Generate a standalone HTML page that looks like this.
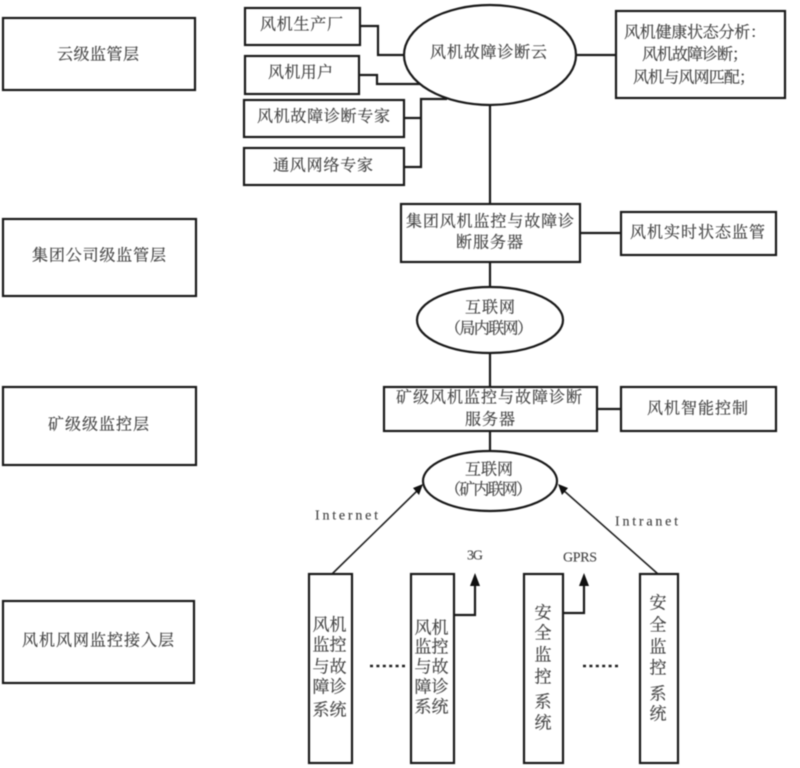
<!DOCTYPE html>
<html lang="zh">
<head>
<meta charset="utf-8">
<title>风机故障诊断云</title>
<style>
html,body{margin:0;padding:0;background:#fff;width:800px;height:768px;overflow:hidden}
svg{display:block;filter:blur(0.5px)}
.s{fill:#fff;stroke:#1a1a1a;stroke-width:2.2}
.l{fill:none;stroke:#1a1a1a;stroke-width:2.2}
.d{fill:none;stroke:#222;stroke-width:1.6}
text{font-family:"Liberation Serif","Noto Serif CJK SC",serif;font-size:16px;fill:#444;stroke:#555;stroke-width:.25px;dominant-baseline:central;text-anchor:start}
.c text{text-anchor:middle;font-size:17px}
text.e{font-size:14px;stroke-width:.15px}
</style>
</head>
<body>
<svg width="800" height="768" viewBox="0 0 800 768" xmlns="http://www.w3.org/2000/svg">
<!-- connectors -->
<path class="l" d="M360 26H378V55H406"/>
<path class="l" d="M360 75H377V84H420"/>
<path class="l" d="M404 118H421M404 167H421V99H447"/>
<path class="l" d="M490 104V205M490 262V288M490 352V388M490 431V453"/>
<path class="l" d="M575 55H617M580 233H621M597 409H621"/>
<path class="d" d="M332 574L419 489"/>
<path class="d" d="M658 574L562 489"/>
<path class="l" d="M454 615H475V584"/>
<path class="l" d="M563 613H584V584"/>
<path d="M423 484L413 488L419 495Z" fill="#111"/>
<path d="M558 484L568 488L562 495Z" fill="#111"/>
<path d="M475 573L470 586H480Z" fill="#111"/>
<path d="M584 573L579 586H589Z" fill="#111"/>
<path d="M370 666H407M583 666H620" fill="none" stroke="#222" stroke-width="2.5" stroke-dasharray="3 3.4"/>

<!-- layer boxes -->
<rect class="s" x="3" y="18" width="192" height="72"/>
<rect class="s" x="3" y="219" width="193" height="77"/>
<rect class="s" x="3" y="387" width="193" height="78"/>
<rect class="s" x="3" y="601" width="191" height="82"/>
<text x="57" y="55" textLength="82" lengthAdjust="spacing">云级监管层</text>
<text x="32" y="256" textLength="134" lengthAdjust="spacing">集团公司级监管层</text>
<text x="48" y="425" textLength="101" lengthAdjust="spacing">矿级级监控层</text>
<text x="22" y="641" textLength="152" lengthAdjust="spacing">风机风网监控接入层</text>

<!-- top left boxes -->
<rect class="s" x="245" y="8" width="115" height="37"/>
<rect class="s" x="245" y="56" width="114" height="38"/>
<rect class="s" x="244" y="100" width="160" height="37"/>
<rect class="s" x="244" y="148" width="160" height="37"/>
<text x="260" y="25" textLength="83" lengthAdjust="spacing">风机生产厂</text>
<text x="268" y="73" textLength="65" lengthAdjust="spacing">风机用户</text>
<text x="257" y="117" textLength="133" lengthAdjust="spacing">风机故障诊断专家</text>
<text x="273" y="166" textLength="100" lengthAdjust="spacing">通风网络专家</text>

<!-- cloud -->
<ellipse class="s" cx="490" cy="55" rx="86" ry="50"/>
<text x="430" y="53" textLength="117" lengthAdjust="spacing">风机故障诊断云</text>

<!-- top right -->
<rect class="s" x="616" y="11" width="169" height="87"/>
<text x="624" y="33" textLength="142" lengthAdjust="spacing">风机健康状态分析：</text>
<text x="642" y="55" textLength="106" lengthAdjust="spacing">风机故障诊断；</text>
<text x="633" y="78" textLength="122" lengthAdjust="spacing">风机与风网匹配；</text>

<!-- group server -->
<rect class="s" x="401" y="204" width="179" height="58"/>
<text x="406" y="222" textLength="168" lengthAdjust="spacing">集团风机监控与故障诊</text>
<text x="456" y="243" textLength="67" lengthAdjust="spacing">断服务器</text>
<rect class="s" x="621" y="212" width="155" height="43"/>
<text x="630" y="233" textLength="135" lengthAdjust="spacing">风机实时状态监管</text>

<!-- internet 1 -->
<ellipse class="s" cx="490" cy="320" rx="73" ry="33"/>
<text x="465" y="308" textLength="50" lengthAdjust="spacing">互联网</text>
<text x="445" y="329" textLength="88" lengthAdjust="spacing">（局内联网）</text>

<!-- mine server -->
<rect class="s" x="384" y="387" width="213" height="44"/>
<text x="396" y="398" textLength="186" lengthAdjust="spacing">矿级风机监控与故障诊断</text>
<text x="465" y="420" textLength="50" lengthAdjust="spacing">服务器</text>
<rect class="s" x="621" y="387" width="155" height="44"/>
<text x="647" y="409" textLength="101" lengthAdjust="spacing">风机智能控制</text>

<!-- internet 2 -->
<ellipse class="s" cx="490" cy="481" rx="67" ry="30"/>
<text x="465" y="470" textLength="48" lengthAdjust="spacing">互联网</text>
<text x="445" y="490" textLength="87" lengthAdjust="spacing">（矿内联网）</text>

<!-- labels -->
<text class="e" x="315" y="516" textLength="63" lengthAdjust="spacing">Internet</text>
<text class="e" x="615" y="522" textLength="63" lengthAdjust="spacing">Intranet</text>
<text class="e" x="467" y="556" textLength="16" lengthAdjust="spacing">3G</text>
<text class="e" x="563" y="558" textLength="34" lengthAdjust="spacing">GPRS</text>

<!-- columns -->
<rect class="s" x="309" y="574" width="43" height="189"/>
<rect class="s" x="411" y="574" width="43" height="189"/>
<rect class="s" x="524" y="574" width="39" height="189"/>
<rect class="s" x="640" y="574" width="38" height="189"/>
<g class="c">
<text x="321" y="625">风</text><text x="338" y="625">机</text>
<text x="321" y="645">监</text><text x="338" y="645">控</text>
<text x="321" y="667">与</text><text x="338" y="667">故</text>
<text x="321" y="687">障</text><text x="338" y="687">诊</text>
<text x="321" y="710">系</text><text x="338" y="710">统</text>
<text x="423" y="628">风</text><text x="440" y="628">机</text>
<text x="423" y="647">监</text><text x="440" y="647">控</text>
<text x="423" y="667">与</text><text x="440" y="667">故</text>
<text x="423" y="687">障</text><text x="440" y="687">诊</text>
<text x="423" y="707">系</text><text x="440" y="707">统</text>
<text x="543" y="613">安</text>
<text x="543" y="633">全</text>
<text x="543" y="655">监</text>
<text x="543" y="677">控</text>
<text x="543" y="702">系</text>
<text x="543" y="723">统</text>
<text x="658" y="603">安</text>
<text x="658" y="625">全</text>
<text x="658" y="647">监</text>
<text x="658" y="668">控</text>
<text x="658" y="694">系</text>
<text x="658" y="714">统</text>
</g>
</svg>
</body>
</html>
